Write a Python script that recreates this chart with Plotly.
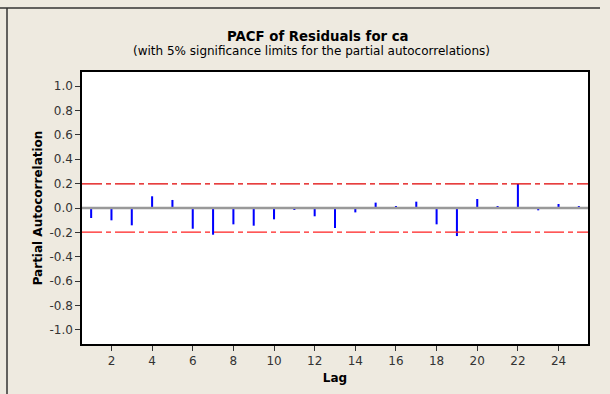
import plotly.graph_objects as go

lags = list(range(1, 26))
pacf = [-0.082, -0.101, -0.142, 0.096, 0.066, -0.170, -0.219, -0.134, -0.145, -0.093,
        -0.011, -0.068, -0.164, -0.036, 0.044, 0.011, 0.052, -0.134, -0.230, 0.074,
        0.011, 0.197, -0.019, 0.033, 0.010]
sig_limit = 0.198
y_ticks = [-1.0, -0.8, -0.6, -0.4, -0.2, 0.0, 0.2, 0.4, 0.6, 0.8, 1.0]
y_labels = ["-1.0", "-0.8", "-0.6", "-0.4", "-0.2", "0.0", "0.2", "0.4", "0.6", "0.8", "1.0"]
x_ticks = list(range(2, 25, 2))
title_text = "PACF of Residuals for ca"
subtitle_text = "(with 5% significance limits for the partial autocorrelations)"

fig = go.Figure()
x_rng = [0.55, 25.45]

fig.add_trace(go.Scatter(x=x_rng, y=[0, 0], mode="lines",
                         line=dict(color="#999999", width=2.5), hoverinfo="skip"))
fig.add_trace(go.Scatter(x=x_rng, y=[sig_limit, sig_limit], mode="lines",
                         line=dict(color="#E00000", width=1.3, dash="20px,4px,5px,4px")))
fig.add_trace(go.Scatter(x=x_rng, y=[-sig_limit, -sig_limit], mode="lines",
                         line=dict(color="#FF2020", width=1.3, dash="20px,4px,5px,4px")))
fig.add_trace(go.Bar(x=lags, y=pacf, width=0.1, marker=dict(color="#0000FF", line=dict(width=0))))

fig.update_layout(
    width=610, height=394,
    margin=dict(l=82, r=22, t=72, b=50),
    paper_bgcolor="#EEEAE0", plot_bgcolor="white",
    showlegend=False,
    font=dict(family="DejaVu Sans", color="#333333", size=11),
)
fig.add_annotation(text="<b>" + title_text + "</b>", xref="paper", yref="paper",
                   x=(318 - 82) / 506, y=(344 - 36) / 272, xanchor="center", yanchor="middle",
                   showarrow=False, font=dict(size=13.3, color="black"))
fig.add_annotation(text=subtitle_text, xref="paper", yref="paper",
                   x=(311 - 82) / 506, y=(344 - 51) / 272, xanchor="center", yanchor="middle",
                   showarrow=False, font=dict(size=12, color="black"))

fig.update_xaxes(range=x_rng, tickvals=x_ticks, ticks="outside", ticklen=5, tickcolor="#333",
                 showgrid=False, zeroline=False, showline=True, linecolor="black", linewidth=1.5, mirror=True,
                 title=dict(text="<b>Lag</b>", font=dict(size=12, color="black"), standoff=6),
                 tickfont=dict(size=12, color="#333"))
fig.update_yaxes(range=[-1.115, 1.115], tickvals=y_ticks, ticktext=y_labels, ticks="outside", ticklen=5,
                 tickcolor="#333", showgrid=False, zeroline=False, showline=True, linecolor="black",
                 linewidth=1.5, mirror=True,
                 title=dict(text="<b>Partial Autocorrelation</b>", font=dict(size=12, color="black"), standoff=4),
                 tickfont=dict(size=12, color="#333"))

fig.add_shape(type="line", xref="paper", yref="paper", x0=-82/506, x1=(600-82)/506,
              y0=1 + 64/272, y1=1 + 64/272, line=dict(color="#333", width=1.5))
fig.add_shape(type="line", xref="paper", yref="paper", x0=-75/506, x1=-75/506,
              y0=1 + 64/272, y1=-50/272, line=dict(color="#333", width=1.5))

fig.write_html("out.html")
